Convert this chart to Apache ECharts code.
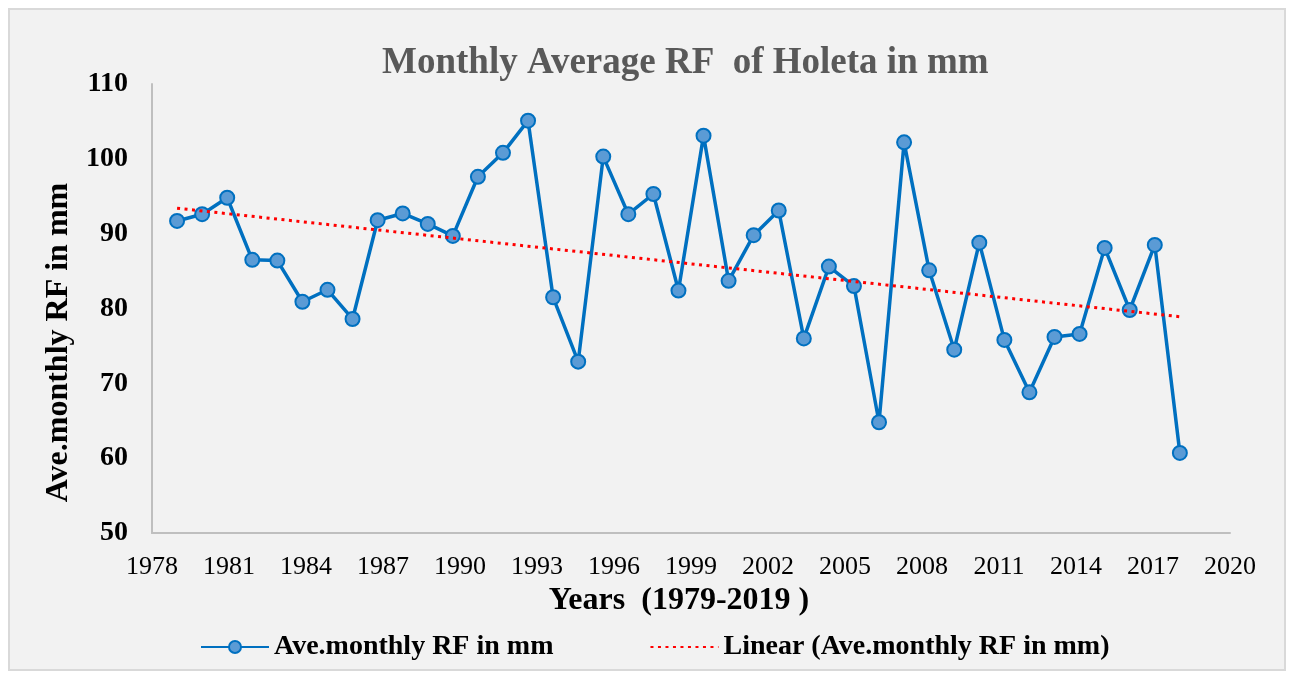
<!DOCTYPE html>
<html>
<head>
<meta charset="utf-8">
<script src="https://cdn.jsdelivr.net/npm/echarts@6/dist/echarts.min.js"></script>
<style>
html, body { margin: 0; padding: 0; background: #ffffff; }
#box { width: 1293px; height: 679px; }
</style>
</head>
<body>
<div id="box"></div>
<script>
// data
const years = [1979, 1980, 1981, 1982, 1983, 1984, 1985, 1986, 1987, 1988,
	1989, 1990, 1991, 1992, 1993, 1994, 1995, 1996, 1997, 1998,
	1999, 2000, 2001, 2002, 2003, 2004, 2005, 2006, 2007, 2008,
	2009, 2010, 2011, 2012, 2013, 2014, 2015, 2016, 2017, 2018, 2019]
const rainfall = [91.7, 92.6, 94.8, 86.5, 86.4, 80.9, 82.5, 78.6, 91.8, 92.7,
	91.3, 89.7, 97.6, 100.8, 105.1, 81.5, 72.9, 100.3, 92.6, 95.3,
	82.4, 103.1, 83.7, 89.8, 93.1, 76.0, 85.6, 83.0, 64.8, 102.2,
	85.1, 74.5, 88.8, 75.8, 68.8, 76.2, 76.6, 88.1, 79.8, 88.5, 60.7]
// linear trend end points as drawn in the picture
const trendYears = [1979, 2019]
const trendValues = [93.4, 78.9]

const seriesName = "Ave.monthly RF in mm"
const trendName = "Linear (Ave.monthly RF in mm)"
const serif = "'Liberation Serif', 'DejaVu Serif', serif"

let myCharts = echarts.init(document.getElementById("box"))
let option = {
	animation: false,
	graphic: [
		{
			type: "rect",
			z: -10,
			shape: { x: 9, y: 9, width: 1276, height: 661 },
			style: { fill: "#f2f2f2", stroke: "#d9d9d9", lineWidth: 2 },
		},
	],
	title: {
		text: "Monthly Average RF  of Holeta in mm",
		left: 377,
		top: 40,
		textStyle: {
			fontFamily: serif,
			fontSize: 37,
			fontWeight: "bold",
			color: "#595959",
		},
	},
	legend: {
		left: 195,
		top: 628,
		itemGap: 96,
		itemWidth: 68,
		itemHeight: 15,
		textStyle: {
			fontFamily: serif,
			fontSize: 28,
			fontWeight: "bold",
			color: "#000000",
		},
		data: [
			seriesName,
			{ name: trendName, itemStyle: { color: "rgba(0,0,0,0)", borderWidth: 0 } },
		],
	},
	grid: {
		left: 152,
		right: 63,
		top: 84,
		bottom: 146,
	},
	xAxis: [
		{
			// visible axis with the tick labels
			type: "value",
			min: 1978,
			max: 2020,
			interval: 3,
			name: "Years  (1979-2019 )",
			nameLocation: "middle",
			nameGap: 50,
			nameTextStyle: {
				fontFamily: serif,
				fontSize: 32,
				fontWeight: "bold",
				color: "#000000",
				padding: [0, 24, 0, 0],
			},
			axisLine: { show: true, lineStyle: { color: "#bfbfbf", width: 2 } },
			axisTick: { show: false },
			splitLine: { show: false },
			axisLabel: {
				margin: 21,
				fontFamily: serif,
				fontSize: 26,
				color: "#000000",
				formatter: (v) => String(v),
			},
		},
		{
			// hidden axis the points are plotted on (the source spreads points 1978..2021)
			type: "value",
			min: 1978,
			max: 2021,
			show: false,
			splitLine: { show: false },
		},
	],
	yAxis: {
		type: "value",
		min: 50,
		max: 110,
		interval: 10,
		name: "Ave.monthly RF in mm",
		nameLocation: "middle",
		nameGap: 74,
		nameTextStyle: {
			fontFamily: serif,
			fontSize: 32,
			fontWeight: "bold",
			color: "#000000",
			padding: [0, 68, 0, 0],
		},
		axisLine: { show: true, lineStyle: { color: "#bfbfbf", width: 2 } },
		axisTick: { show: false },
		splitLine: { show: false },
		axisLabel: {
			margin: 24,
			fontFamily: serif,
			fontSize: 28,
			fontWeight: "bold",
			color: "#000000",
		},
	},
	series: [
		{
			name: seriesName,
			type: "line",
			xAxisIndex: 1,
			data: years.map((y, i) => [y, rainfall[i]]),
			symbol: "circle",
			symbolSize: 14,
			lineStyle: { color: "#0070c0", width: 3.5 },
			itemStyle: { color: "#5b9bd5", borderColor: "#0070c0", borderWidth: 2 },
			z: 3,
		},
		{
			name: trendName,
			type: "line",
			xAxisIndex: 1,
			data: trendYears.map((y, i) => [y, trendValues[i]]),
			symbol: "none",
			lineStyle: { color: "#ff0000", width: 3, type: [3, 4.5] },
			itemStyle: { color: "#ff0000" },
			z: 4,
		},
	],
}
myCharts.setOption(option)
</script>
</body>
</html>
